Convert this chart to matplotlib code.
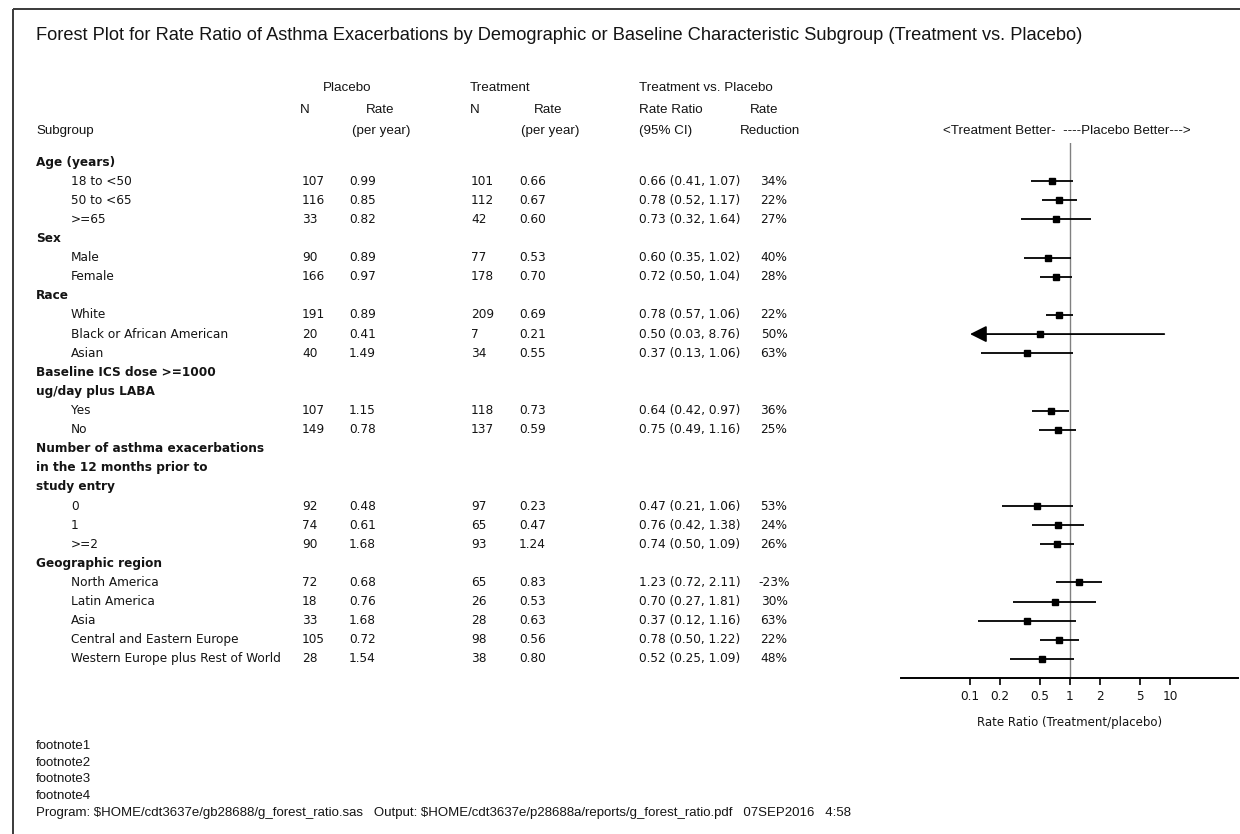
import matplotlib
matplotlib.use("Agg")
import matplotlib.pyplot as plt
import matplotlib.transforms as mtransforms
from matplotlib.patches import Rectangle

# ---------------- data ----------------
row_labels = ["Age (years)", "18 to <50", "50 to <65", ">=65",
              "Sex", "Male", "Female",
              "Race", "White", "Black or African American", "Asian",
              "Baseline ICS dose >=1000", "ug/day plus LABA", "Yes", "No",
              "Number of asthma exacerbations", "in the 12 months prior to", "study entry",
              "0", "1", ">=2",
              "Geographic region", "North America", "Latin America", "Asia",
              "Central and Eastern Europe", "Western Europe plus Rest of World"]
row_is_header = [True, False, False, False,
                 True, False, False,
                 True, False, False, False,
                 True, True, False, False,
                 True, True, True, False, False, False,
                 True, False, False, False, False, False]

placebo_n = [107, 116, 33, 90, 166, 191, 20, 40, 107, 149, 92, 74, 90, 72, 18, 33, 105, 28]
placebo_rate = ["0.99", "0.85", "0.82", "0.89", "0.97", "0.89", "0.41", "1.49", "1.15", "0.78",
                "0.48", "0.61", "1.68", "0.68", "0.76", "1.68", "0.72", "1.54"]
treat_n = [101, 112, 42, 77, 178, 209, 7, 34, 118, 137, 97, 65, 93, 65, 26, 28, 98, 38]
treat_rate = ["0.66", "0.67", "0.60", "0.53", "0.70", "0.69", "0.21", "0.55", "0.73", "0.59",
              "0.23", "0.47", "1.24", "0.83", "0.53", "0.63", "0.56", "0.80"]
rate_ratio = [0.66, 0.78, 0.73, 0.60, 0.72, 0.78, 0.50, 0.37, 0.64, 0.75,
              0.47, 0.76, 0.74, 1.23, 0.70, 0.37, 0.78, 0.52]
ci_low = [0.41, 0.52, 0.32, 0.35, 0.50, 0.57, 0.03, 0.13, 0.42, 0.49,
          0.21, 0.42, 0.50, 0.72, 0.27, 0.12, 0.50, 0.25]
ci_high = [1.07, 1.17, 1.64, 1.02, 1.04, 1.06, 8.76, 1.06, 0.97, 1.16,
           1.06, 1.38, 1.09, 2.11, 1.81, 1.16, 1.22, 1.09]
rate_reduction = ["34%", "22%", "27%", "40%", "28%", "22%", "50%", "63%", "36%", "25%",
                  "53%", "24%", "26%", "-23%", "30%", "63%", "22%", "48%"]

tick_values = [0.1, 0.2, 0.5, 1, 2, 5, 10]
tick_labels = ["0.1", "0.2", "0.5", "1", "2", "5", "10"]

title = ("Forest Plot for Rate Ratio of Asthma Exacerbations by Demographic or "
         "Baseline Characteristic Subgroup (Treatment vs. Placebo)")
footnotes = ["footnote1", "footnote2", "footnote3", "footnote4",
             "Program: $HOME/cdt3637e/gb28688/g_forest_ratio.sas   Output: "
             "$HOME/cdt3637e/p28688a/reports/g_forest_ratio.pdf   07SEP2016   4:58"]

# ---------------- layout ----------------
W, H = 1240, 834
fig = plt.figure(figsize=(W / 100, H / 100), dpi=100)
fig.patch.set_facecolor("white")

ax0 = fig.add_axes([0, 0, 1, 1])
ax0.set_xlim(0, W)
ax0.set_ylim(H, 0)
ax0.axis("off")

# forest panel
fx0, fx1, fy0, fy1 = 901, 1238, 143, 678
ax = fig.add_axes([fx0 / W, 1 - fy1 / H, (fx1 - fx0) / W, (fy1 - fy0) / H])
ax.set_facecolor("none")
ax.set_xscale("log")
ax.set_xlim(10 ** ((fx0 - 1070) / 100), 10 ** ((fx1 - 1070) / 100))
ax.set_ylim(len(row_labels), -1)

trans = mtransforms.blended_transform_factory(ax0.transData, ax.transData)

TXT = "#141414"
ARIAL = ["Liberation Sans", "DejaVu Sans"]
NARROW = ["Liberation Sans Narrow", "Liberation Sans", "DejaVu Sans"]
TAB = ["DejaVu Sans"]

# frame
ax0.add_patch(Rectangle((12.5, 9), W, H, fill=False, edgecolor="#3a3a3a", lw=1.4))

# title
ax0.text(36, 35, title, fontsize=13.15, family=ARIAL, color=TXT, va="center", ha="left")

# column headers
hdr = [("Placebo", 323, 88), ("N", 300, 110), ("Rate", 366, 110), ("(per year)", 352, 131),
       ("Treatment", 470, 88), ("N", 470, 110), ("Rate", 534, 110), ("(per year)", 521, 131),
       ("Treatment vs. Placebo", 639, 88), ("Rate Ratio", 639, 110), ("Rate", 750, 110),
       ("(95% CI)", 639, 131), ("Reduction", 740, 131), ("Subgroup", 36, 131),
       ("<Treatment Better-  ----Placebo Better--->", 943, 131)]
for s, x, y in hdr:
    ax0.text(x, y, s, fontsize=9.6, family=ARIAL, color=TXT, va="center", ha="left")

# table rows
item_rows = [i for i, h in enumerate(row_is_header) if not h]
for i, (lab, ish) in enumerate(zip(row_labels, row_is_header)):
    ax0.text(36 if ish else 71, i, lab, transform=trans, fontsize=8.7, family=TAB,
             fontweight="bold" if ish else "normal", color=TXT, va="center", ha="left")

for k, r in enumerate(item_rows):
    kw = dict(transform=trans, fontsize=8.7, family=TAB, color=TXT, va="center")
    ax0.text(302, r, str(placebo_n[k]), ha="left", **kw)
    ax0.text(349, r, placebo_rate[k], ha="left", **kw)
    ax0.text(471, r, str(treat_n[k]), ha="left", **kw)
    ax0.text(519, r, treat_rate[k], ha="left", **kw)
    ax0.text(639, r, f"{rate_ratio[k]:.2f} ({ci_low[k]:.2f}, {ci_high[k]:.2f})", ha="left", **kw)
    ax0.text(774, r, rate_reduction[k], ha="center", **kw)

# footnotes
for j, s in enumerate(footnotes):
    ax0.text(36, 746 + j * 16.7, s, fontsize=9.55, family=NARROW, color=TXT,
             va="center", ha="left", parse_math=False)

# forest marks
clip_lo = tick_values[0]
ax.axvline(1, color="#808080", lw=1.0, zorder=1)
for k, r in enumerate(item_rows):
    lo = ci_low[k]
    if lo < clip_lo:
        ax.annotate("", xy=(clip_lo, r), xytext=(ci_high[k], r),
                    arrowprops=dict(arrowstyle="-|>,head_length=1.0,head_width=0.5",
                                    color="black", lw=1.3, shrinkA=0, shrinkB=0,
                                    mutation_scale=10))
    else:
        ax.plot([lo, ci_high[k]], [r, r], color="black", lw=1.3, solid_capstyle="butt", zorder=2)
ax.plot(rate_ratio, item_rows, ls="none", marker="s", ms=4, color="black", zorder=3)

for sp in ("top", "left", "right"):
    ax.spines[sp].set_visible(False)
ax.spines["bottom"].set_linewidth(1.4)
ax.set_yticks([])
ax.set_xticks(tick_values)
ax.set_xticklabels(tick_labels)
ax.minorticks_off()
ax.tick_params(axis="x", direction="out", length=5, width=1.2, pad=4,
               labelsize=8.7, labelcolor=TXT)
for t in ax.get_xticklabels():
    t.set_family(TAB)
ax.set_xlabel("Rate Ratio (Treatment/placebo)", fontsize=8.5, family=TAB, color=TXT, labelpad=9)

fig.savefig("out.png", dpi=100, facecolor="white")
